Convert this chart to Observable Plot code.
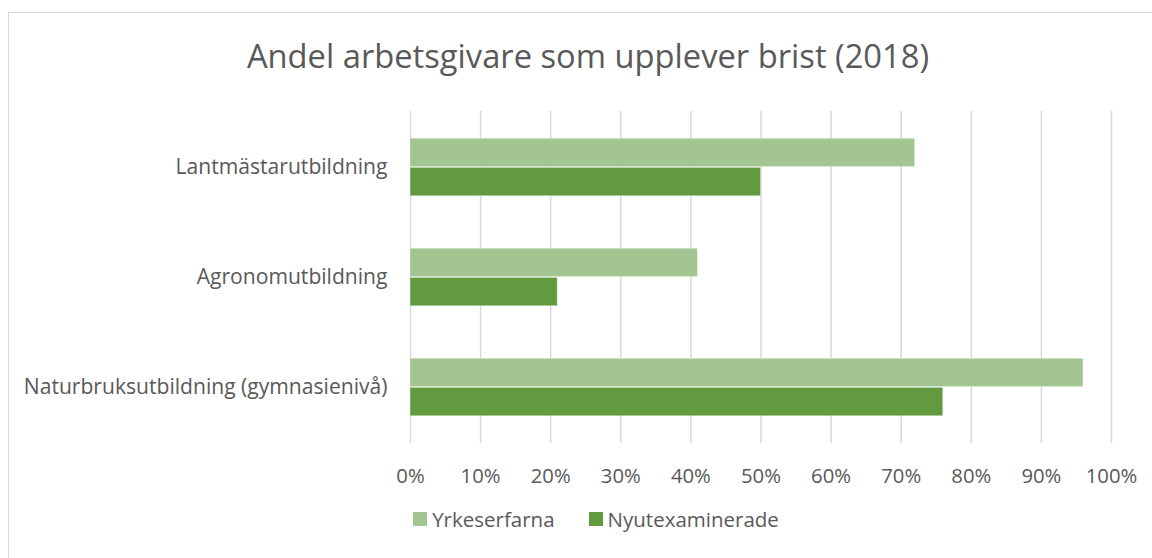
<!DOCTYPE html>
<html>
<head>
<meta charset="utf-8">
<script src="https://cdn.jsdelivr.net/npm/d3@7"></script>
<script src="https://cdn.jsdelivr.net/npm/@observablehq/plot@0.6"></script>
<style>
  html, body { margin: 0; padding: 0; background: #fff; }
  body { width: 1152px; height: 558px; overflow: hidden; position: relative; font-family: "Open Sans", Lato, sans-serif; color: #595959; }
  #frame { position: absolute; left: 8px; top: 12px; width: 1200px; height: 600px; border: 1px solid #D9D9D9; box-sizing: border-box; }
  #title { position: absolute; left: 0; top: 36px; width: 1152px; padding-left: 24px; box-sizing: border-box; text-align: center; font-size: 32.7px; line-height: 40px; color: #595959; white-space: nowrap; }
  #chart { position: absolute; left: 0; top: 100px; }
  #legend { position: absolute; left: 0; top: 507px; width: 1152px; padding-left: 40px; box-sizing: border-box; text-align: center; font-size: 20.5px; line-height: 22px; white-space: nowrap; }
  .item { display: inline-flex; align-items: center; margin: 0 17px; }
  .sw { display: inline-block; width: 14px; height: 14px; margin-right: 5px; }
</style>
</head>
<body>
<div id="frame"></div>
<div id="title">Andel arbetsgivare som upplever brist (2018)</div>
<div id="chart"></div>
<div id="legend"></div>
<script>
const categories = ["Lantmästarutbildning", "Agronomutbildning", "Naturbruksutbildning (gymnasienivå)"];
const series = ["Yrkeserfarna", "Nyutexaminerade"];
const yrkeserfarna = [0.72, 0.41, 0.96];
const nyutexaminerade = [0.50, 0.21, 0.76];
const xTicks = [0, 0.1, 0.2, 0.3, 0.4, 0.5, 0.6, 0.7, 0.8, 0.9, 1.0];
const colors = ["#A3C592", "#629B3F"];

const dataY = categories.map((c, i) => ({category: c, value: yrkeserfarna[i]}));
const dataN = categories.map((c, i) => ({category: c, value: nyutexaminerade[i]}));

const bandH = 332 / 3;
const groupH = bandH / 1.9;
const outer = (bandH - groupH) / 2;

const chart = Plot.plot({
  width: 1152,
  height: 400,
  marginLeft: 410,
  marginRight: 41,
  marginTop: 11,
  marginBottom: 57,
  style: {fontFamily: "'Open Sans', Lato, sans-serif", fontSize: "20px", color: "#595959", background: "transparent"},
  x: {domain: [0, 1]},
  y: {domain: categories, padding: 0},
  marks: [
    Plot.gridX(xTicks, {stroke: "#D9D9D9", strokeOpacity: 1, strokeWidth: 1.5}),
    Plot.barX(dataY, {x: "value", y: "category", fill: colors[0], insetTop: outer, insetBottom: bandH / 2, stroke: "#fff", strokeOpacity: 0.5, strokeWidth: 0.75}),
    Plot.barX(dataN, {x: "value", y: "category", fill: colors[1], insetTop: bandH / 2, insetBottom: outer, stroke: "#fff", strokeOpacity: 0.5, strokeWidth: 0.75}),
    Plot.axisX(xTicks, {tickSize: 0, tickPadding: 25, tickFormat: d3.format(".0%"), label: null, fill: "#595959", fontSize: 20.3}),
    Plot.axisY({tickSize: 0, tickPadding: 23, label: null, fill: "#595959", fontSize: 21.1})
  ]
});
document.getElementById("chart").appendChild(chart);

const legend = document.getElementById("legend");
series.forEach((s, i) => {
  const item = document.createElement("span");
  item.className = "item";
  const sw = document.createElement("span");
  sw.className = "sw";
  sw.style.background = colors[i];
  item.appendChild(sw);
  item.appendChild(document.createTextNode(s));
  legend.appendChild(item);
});
</script>
</body>
</html>
